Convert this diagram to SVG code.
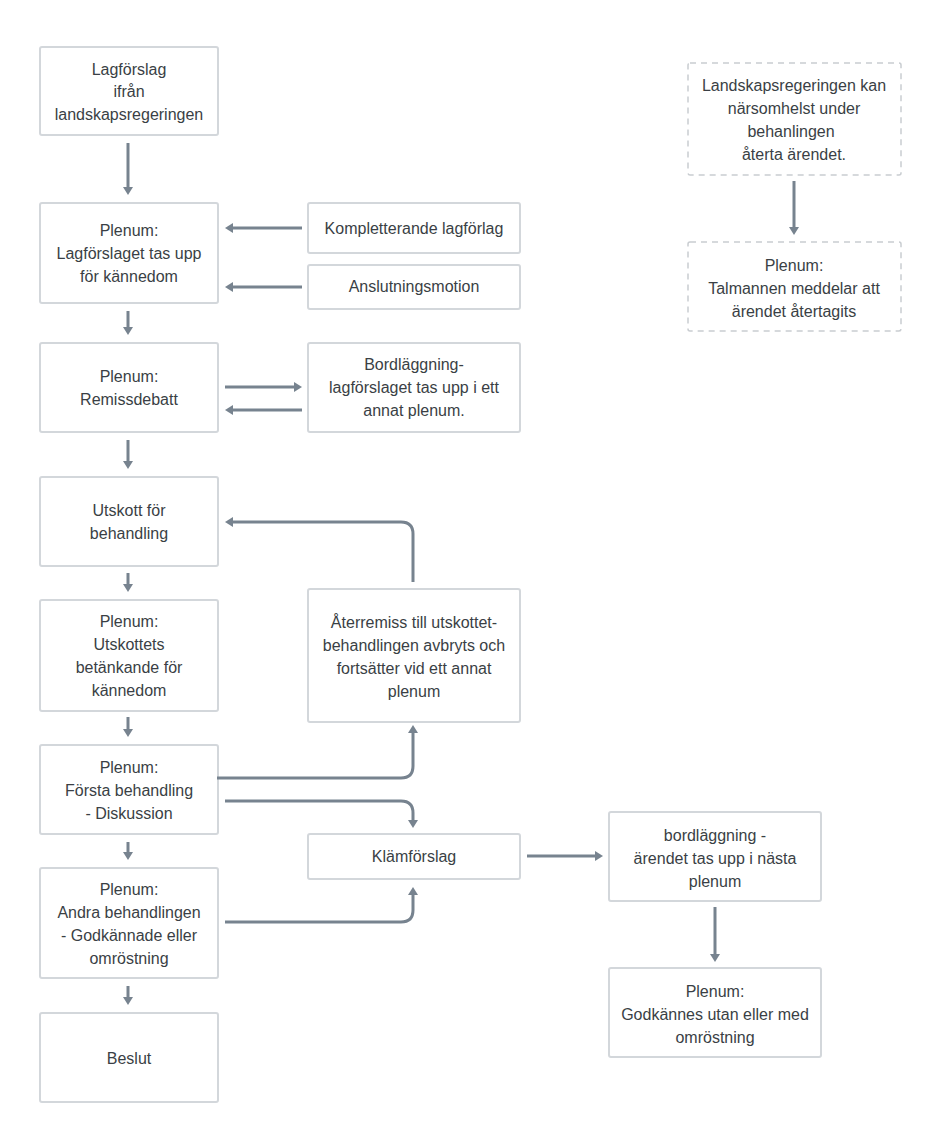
<svg xmlns="http://www.w3.org/2000/svg" width="943" height="1140" viewBox="0 0 943 1140">
<style>
.box{fill:#fff;stroke:#d3d7db;stroke-width:2}
.dbox{fill:#fff;stroke:#c9cdd1;stroke-width:1.5;stroke-dasharray:6 5}
text{font-family:"Liberation Sans",Arial,sans-serif;font-size:16px;fill:#3a3f45;text-anchor:middle}
.c{fill:none;stroke:#77838f;stroke-width:3;marker-end:url(#ah)}
</style>
<defs>
<marker id="ah" viewBox="0 0 8 10" markerWidth="8" markerHeight="10" refX="2" refY="5" orient="auto" markerUnits="userSpaceOnUse">
<path d="M0,0 L8,5 L0,10 z" fill="#77838f"/>
</marker>
</defs>
<rect width="943" height="1140" fill="#fff"/>
<g id="n1"><rect class="box" x="40" y="47" width="178" height="88" rx="2"/><text x="129" y="75">Lagförslag</text><text x="129" y="97">ifrån</text><text x="129" y="120">landskapsregeringen</text></g>
<g id="n2"><rect class="box" x="40" y="203" width="178" height="100" rx="2"/><text x="129" y="236">Plenum:</text><text x="129" y="259">Lagförslaget tas upp</text><text x="129" y="282">för kännedom</text></g>
<g id="n3"><rect class="box" x="40" y="343" width="178" height="89" rx="2"/><text x="129" y="382">Plenum:</text><text x="129" y="405">Remissdebatt</text></g>
<g id="n4"><rect class="box" x="40" y="477" width="178" height="89" rx="2"/><text x="129" y="516">Utskott för</text><text x="129" y="539">behandling</text></g>
<g id="n5"><rect class="box" x="40" y="600" width="178" height="111" rx="2"/><text x="129" y="627">Plenum:</text><text x="129" y="650">Utskottets</text><text x="129" y="673">betänkande för</text><text x="129" y="696">kännedom</text></g>
<g id="n6"><rect class="box" x="40" y="745" width="178" height="89" rx="2"/><text x="129" y="773">Plenum:</text><text x="129" y="796">Första behandling</text><text x="129" y="819">- Diskussion</text></g>
<g id="n7"><rect class="box" x="40" y="868" width="178" height="110" rx="2"/><text x="129" y="895">Plenum:</text><text x="129" y="918">Andra behandlingen</text><text x="129" y="941">- Godkännade eller</text><text x="129" y="964">omröstning</text></g>
<g id="n8"><rect class="box" x="40" y="1013" width="178" height="89" rx="2"/><text x="129" y="1064">Beslut</text></g>
<g id="n9"><rect class="box" x="308" y="203" width="212" height="50" rx="2"/><text x="414" y="234">Kompletterande lagförlag</text></g>
<g id="n10"><rect class="box" x="308" y="265" width="212" height="44" rx="2"/><text x="414" y="292">Anslutningsmotion</text></g>
<g id="n11"><rect class="box" x="308" y="343" width="212" height="89" rx="2"/><text x="414" y="370">Bordläggning-</text><text x="414" y="393">lagförslaget tas upp i ett</text><text x="414" y="416">annat plenum.</text></g>
<g id="n12"><rect class="box" x="308" y="589" width="212" height="133" rx="2"/><text x="414" y="628">Återremiss till utskottet-</text><text x="414" y="651">behandlingen avbryts och</text><text x="414" y="674">fortsätter vid ett annat</text><text x="414" y="697">plenum</text></g>
<g id="n13"><rect class="box" x="308" y="834" width="212" height="45" rx="2"/><text x="414" y="862">Klämförslag</text></g>
<g id="n14"><rect class="box" x="609" y="812" width="212" height="89" rx="2"/><text x="715" y="841">bordläggning -</text><text x="715" y="864">ärendet tas upp i nästa</text><text x="715" y="887">plenum</text></g>
<g id="n15"><rect class="box" x="609" y="968" width="212" height="89" rx="2"/><text x="715" y="997">Plenum:</text><text x="715" y="1020">Godkännes utan eller med</text><text x="715" y="1043">omröstning</text></g>
<g id="n16"><rect class="dbox" x="688" y="63" width="213" height="112" rx="2"/><text x="794" y="91">Landskapsregeringen kan</text><text x="794" y="114">närsomhelst under</text><text x="791" y="137">behanlingen</text><text x="794" y="160">återta ärendet.</text></g>
<g id="n17"><rect class="dbox" x="688" y="242" width="213" height="89" rx="2"/><text x="794" y="271">Plenum:</text><text x="794" y="294">Talmannen meddelar att</text><text x="794" y="317">ärendet återtagits</text></g>
<g id="connectors">
<path class="c" d="M128,143 V189"/>
<path class="c" d="M128,311 V329"/>
<path class="c" d="M128,440 V463"/>
<path class="c" d="M128,573 V586"/>
<path class="c" d="M128,717 V731"/>
<path class="c" d="M128,842 V854"/>
<path class="c" d="M128,986 V999"/>
<path class="c" d="M302,228 H231"/>
<path class="c" d="M302,287 H231"/>
<path class="c" d="M225,387 H296"/>
<path class="c" d="M302,410 H231"/>
<path class="c" d="M413,582 V534 Q413,522 401,522 H231"/>
<path class="c" d="M217,778 H401 Q413,778 413,766 V731"/>
<path class="c" d="M225,801 H401 Q413,801 413,813 V822"/>
<path class="c" d="M225,922 H401 Q413,922 413,910 V893"/>
<path class="c" d="M527,856 H597"/>
<path class="c" d="M715,907 V956"/>
<path class="c" d="M794,181 V229"/>
</g>
</svg>
